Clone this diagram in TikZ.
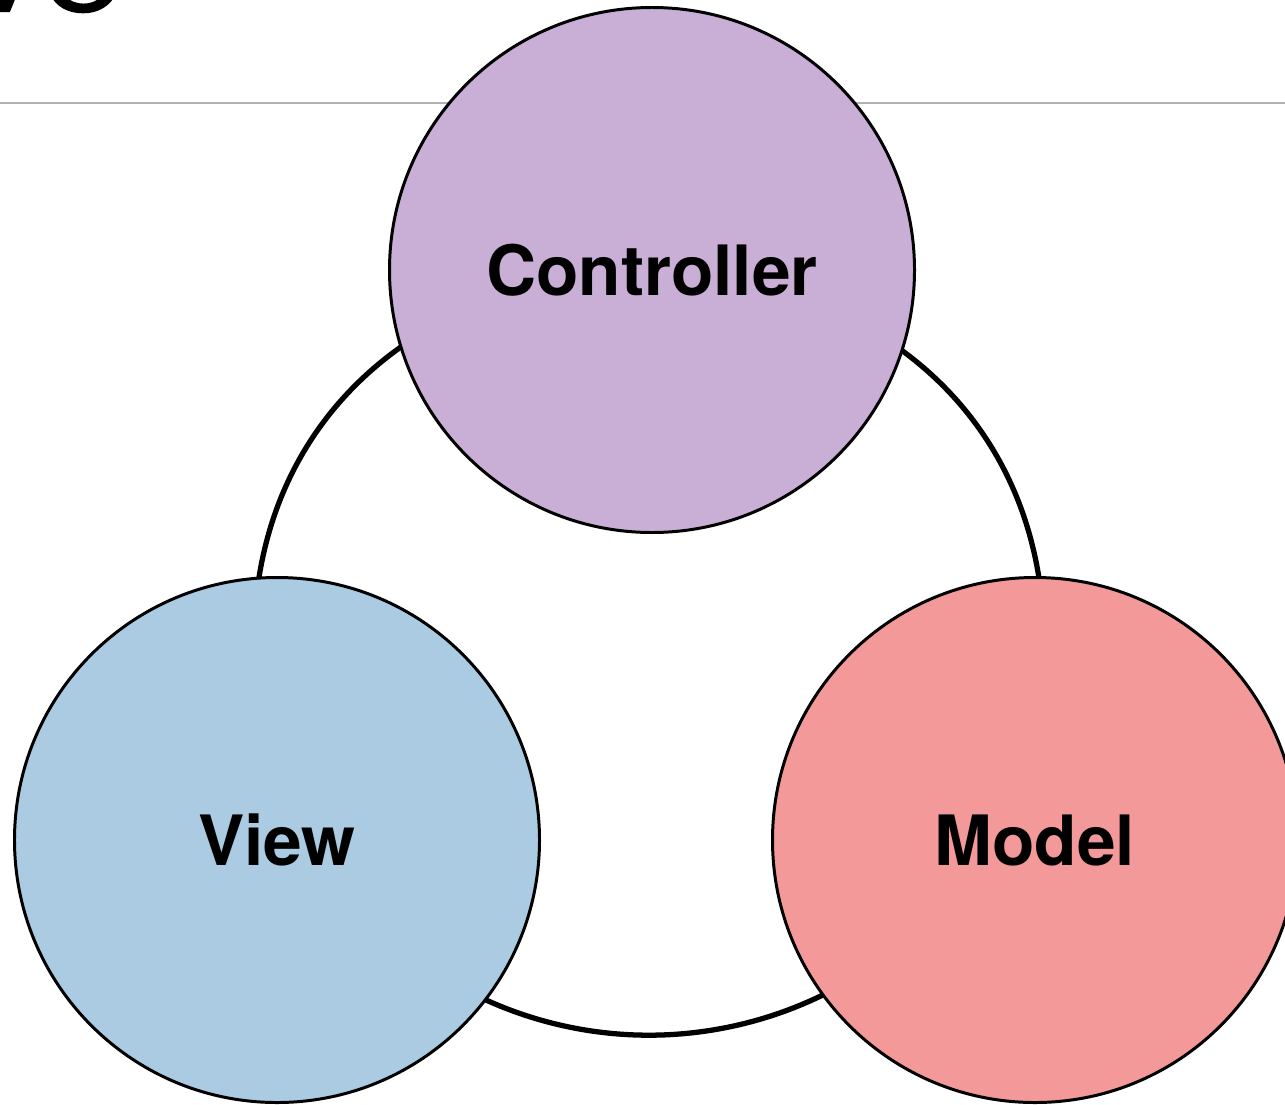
\documentclass[tikz,border=0pt]{standalone}
\usepackage{fontspec}
\setmainfont{TeX Gyre Heros}
\newfontfamily\titlefont[FakeBold=1.2]{Liberation Sans}
\definecolor{ctrlpurple}{RGB}{201,175,214}
\definecolor{viewblue}{RGB}{170,203,226}
\definecolor{modelred}{RGB}{243,153,153}
\definecolor{rulegray}{RGB}{178,178,178}
\begin{document}
\begin{tikzpicture}[part/.style={circle, draw=black, line width=1.7pt, minimum size=10.5cm, inner sep=0pt, font=\bfseries\fontsize{39.5}{46}\selectfont}]
\useasboundingbox (0,0) rectangle (25.7,-22.08);
\node[anchor=south west, inner sep=0pt, font=\titlefont\fontsize{62.6}{70}\selectfont] (title) at (-0.66,-0.26) {VC};
\draw[rulegray, line width=1.1pt] (0,-2.06) -- (25.7,-2.06);
% ring behind the three parts
\draw[line width=3pt] (20.77,-11.5) arc[start angle=9.5, end angle=-189.5, radius=7.9]
  .. controls (6.54,-3.41) and (19.42,-3.41) .. cycle;
\node[part, fill=ctrlpurple] (controller) at (13.04,-5.4) {Controller};
\node[part, fill=viewblue] (view) at (5.54,-16.8) {View};
\node[part, fill=modelred] (model) at (20.7,-16.8) {Model};
\end{tikzpicture}
\end{document}
